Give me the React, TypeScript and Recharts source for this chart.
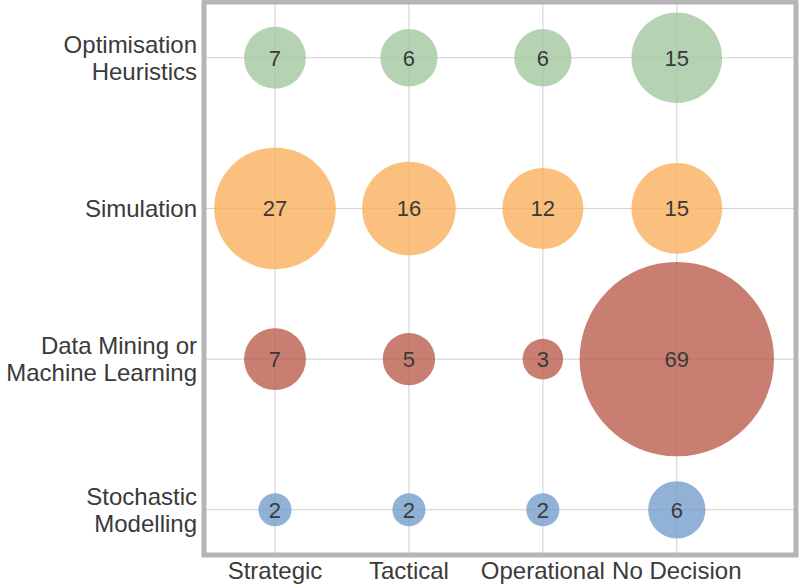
import { ScatterChart, Scatter, XAxis, YAxis, ZAxis, CartesianGrid, LabelList, ReferenceArea } from "recharts";

const decisions = ["Strategic", "Tactical", "Operational", "No Decision"];
// bottom to top
const methods = [
  ["Stochastic", "Modelling"],
  ["Data Mining or", "Machine Learning"],
  ["Simulation"],
  ["Optimisation", "Heuristics"],
];

const stochastic = [2, 2, 2, 6];
const dataMining = [7, 5, 3, 69];
const simulation = [27, 16, 12, 15];
const optimisation = [7, 6, 6, 15];

const series = [
  { name: "Stochastic Modelling", values: stochastic, color: "#779dcc" },
  { name: "Data Mining or Machine Learning", values: dataMining, color: "#ba5f4d" },
  { name: "Simulation", values: simulation, color: "#faaf5e" },
  { name: "Optimisation Heuristics", values: optimisation, color: "#a2c8a0" },
];

const xDomain: [number, number] = [-0.53, 3.89];
const yDomain: [number, number] = [-0.3, 3.37];
const FONT = "'Liberation Sans', Arial, sans-serif";
const TEXT = "#3a3a3a";

const YTick = ({ x, y, payload }: any) => {
  const lines = methods[payload.value] || [];
  const lh = 27;
  return (
    <text x={x} y={y} textAnchor="end" fontSize={24} fill={TEXT} fontFamily={FONT}>
      {lines.map((l, i) => (
        <tspan key={i} x={x} y={y + (i - (lines.length - 1) / 2) * lh} dy="0.36em">
          {l}
        </tspan>
      ))}
    </text>
  );
};

const XTick = ({ x, y, payload }: any) => (
  <text x={x} y={y + 24} textAnchor="middle" fontSize={24} fill={TEXT} fontFamily={FONT}>
    {decisions[payload.value]}
  </text>
);

export default function App() {
  return (
    <div style={{ position: "absolute", left: 0, top: 0, width: 800, height: 585, background: "#fff" }}>
      <ScatterChart width={800} height={585} margin={{ top: 2, right: 4, bottom: 0, left: 0 }}>
        <CartesianGrid stroke="#cfcfcf" strokeWidth={1} />
        <XAxis
          type="number"
          dataKey="x"
          domain={xDomain}
          ticks={[0, 1, 2, 3]}
          tick={<XTick />}
          tickSize={0}
          tickMargin={0}
          axisLine={false}
          height={30}
          allowDataOverflow
        />
        <YAxis
          type="number"
          dataKey="y"
          domain={yDomain}
          ticks={[0, 1, 2, 3]}
          tick={<YTick />}
          tickSize={0}
          tickMargin={7}
          axisLine={false}
          width={204}
          allowDataOverflow
        />
        <ZAxis type="number" dataKey="z" domain={[0, 69]} range={[0, 29670]} />
        {series.map((s, row) => (
          <Scatter
            key={s.name}
            name={s.name}
            data={s.values.map((v, i) => ({ x: i, y: row, z: v }))}
            fill={s.color}
            fillOpacity={0.8}
            isAnimationActive={false}
          >
            <LabelList dataKey="z" position="center" fill={TEXT} fontSize={22} fontFamily={FONT} />
          </Scatter>
        ))}
        <ReferenceArea
          x1={xDomain[0]}
          x2={xDomain[1]}
          y1={yDomain[0]}
          y2={yDomain[1]}
          fill="none"
          stroke="#b5b5b5"
          strokeWidth={5}
          ifOverflow="visible"
        />
      </ScatterChart>
    </div>
  );
}
